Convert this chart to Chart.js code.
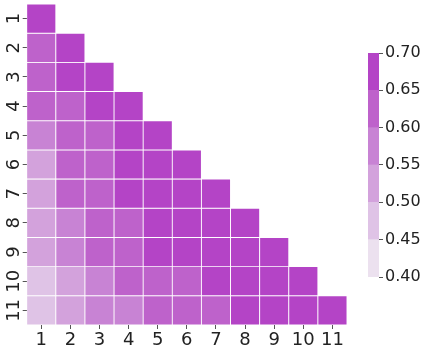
<!DOCTYPE html>
<html>
<head>
<meta charset="utf-8">
<script src="https://cdn.jsdelivr.net/npm/chart.js@4.4.1/dist/chart.umd.min.js"></script>
<style>
  html, body { margin: 0; padding: 0; background: #ffffff; }
  #wrap { position: relative; width: 423px; height: 352px; }
  #heat { position: absolute; left: 0; top: 0; }
  #cbar { position: absolute; left: 355px; top: 0; }
</style>
</head>
<body>
<div id="wrap">
  <canvas id="heat" width="355" height="352"></canvas>
  <canvas id="cbar" width="68" height="352"></canvas>
</div>
<script>
const rowLabels = ["1", "2", "3", "4", "5", "6", "7", "8", "9", "10", "11"];
const colLabels = ["1", "2", "3", "4", "5", "6", "7", "8", "9", "10", "11"];

// lower triangle, row i has i values
const values = [
  [0.68],
  [0.63, 0.68],
  [0.62, 0.67, 0.68],
  [0.63, 0.62, 0.67, 0.68],
  [0.58, 0.63, 0.62, 0.67, 0.68],
  [0.53, 0.62, 0.63, 0.67, 0.68, 0.68],
  [0.53, 0.62, 0.63, 0.67, 0.68, 0.68, 0.67],
  [0.53, 0.58, 0.63, 0.62, 0.67, 0.68, 0.68, 0.67],
  [0.53, 0.58, 0.62, 0.63, 0.67, 0.68, 0.67, 0.68, 0.67],
  [0.48, 0.53, 0.58, 0.62, 0.63, 0.62, 0.67, 0.68, 0.67, 0.68],
  [0.48, 0.53, 0.58, 0.57, 0.63, 0.62, 0.63, 0.67, 0.68, 0.67, 0.68]
];

const binEdges = [0.40, 0.45, 0.50, 0.55, 0.60, 0.65, 0.70];
const binColors = ["#ece1ef", "#dfc3e6", "#d3a2dc", "#c883d4", "#be62cb", "#b444c6"];
const cbarTicks = [0.40, 0.45, 0.50, 0.55, 0.60, 0.65, 0.70];

const FONT = "DejaVu Sans";

function colorFor (v) {
  for (let b = 0; b < binColors.length; b++) {
    if (v < binEdges[b + 1]) return binColors[b];
  }
  return binColors[binColors.length - 1];
}

// one dataset per row, floating bars spanning the row band
const heatDatasets = values.map((row, i) => {
  const r = i + 1;
  return {
    data: colLabels.map((c, j) => (j < row.length ? [r - 0.5, r + 0.5] : null)),
    backgroundColor: colLabels.map((c, j) => (j < row.length ? colorFor(row[j]) : "rgba(0,0,0,0)")),
    borderColor: "#ffffff",
    borderWidth: 0.8,
    borderSkipped: false,
    grouped: false,
    barPercentage: 1,
    categoryPercentage: 1
  };
});

const rotatedYLabels = {
  id: "rotatedYLabels",
  afterDraw (chart) {
    const ctx = chart.ctx;
    const y = chart.scales.y;
    ctx.save();
    ctx.fillStyle = "#222222";
    ctx.font = "18px '" + FONT + "'";
    ctx.textAlign = "center";
    ctx.textBaseline = "middle";
    rowLabels.forEach((lab, i) => {
      const py = y.getPixelForValue(i + 1);
      ctx.save();
      ctx.translate(14, py);
      ctx.rotate(-Math.PI / 2);
      ctx.fillText(lab, 0, 0);
      ctx.restore();
    });
    ctx.restore();
  }
};

new Chart(document.getElementById("heat"), {
  type: "bar",
  data: { labels: colLabels, datasets: heatDatasets },
  options: {
    responsive: false,
    animation: false,
    layout: { padding: { left: 0, top: 4, right: 8, bottom: 0 } },
    plugins: { legend: { display: false }, tooltip: { enabled: false } },
    scales: {
      x: {
        type: "category",
        grid: { offset: false, drawOnChartArea: false, drawTicks: true, tickLength: 4, color: "#555555" },
        border: { display: false },
        ticks: { color: "#222222", font: { family: FONT, size: 18 }, padding: 1, maxRotation: 0 },
        afterFit (scale) { scale.height = 27; }
      },
      y: {
        type: "linear",
        reverse: true,
        min: 0.5,
        max: 11.5,
        afterBuildTicks (scale) { scale.ticks = rowLabels.map((l, i) => ({ value: i + 1 })); },
        grid: { drawOnChartArea: false, drawTicks: true, tickLength: 4, color: "#555555" },
        border: { display: false },
        ticks: { display: false },
        afterFit (scale) { scale.width = 26.7; }
      }
    }
  },
  plugins: [rotatedYLabels]
});

// colour bar: one floating bar per bin on a linear value axis
const cbarDatasets = binColors.map((col, b) => ({
  data: [[binEdges[b], binEdges[b + 1]]],
  backgroundColor: col,
  borderWidth: 0,
  grouped: false,
  barPercentage: 1,
  categoryPercentage: 1
}));

new Chart(document.getElementById("cbar"), {
  type: "bar",
  data: { labels: [""], datasets: cbarDatasets },
  options: {
    responsive: false,
    animation: false,
    layout: { padding: { left: 13, top: 53, right: 0, bottom: 75 } },
    plugins: { legend: { display: false }, tooltip: { enabled: false } },
    scales: {
      x: { display: false },
      y: {
        type: "linear",
        position: "right",
        min: 0.40,
        max: 0.70,
        afterBuildTicks (scale) { scale.ticks = cbarTicks.map((v) => ({ value: v })); },
        grid: { drawOnChartArea: false, drawTicks: true, tickLength: 4, color: "#555555" },
        border: { display: false },
        ticks: {
          color: "#222222",
          font: { family: FONT, size: 16 },
          padding: 2,
          callback: (v) => Number(v).toFixed(2)
        },
        afterFit (scale) { scale.width = 44; }
      }
    }
  }
});
</script>
</body>
</html>
